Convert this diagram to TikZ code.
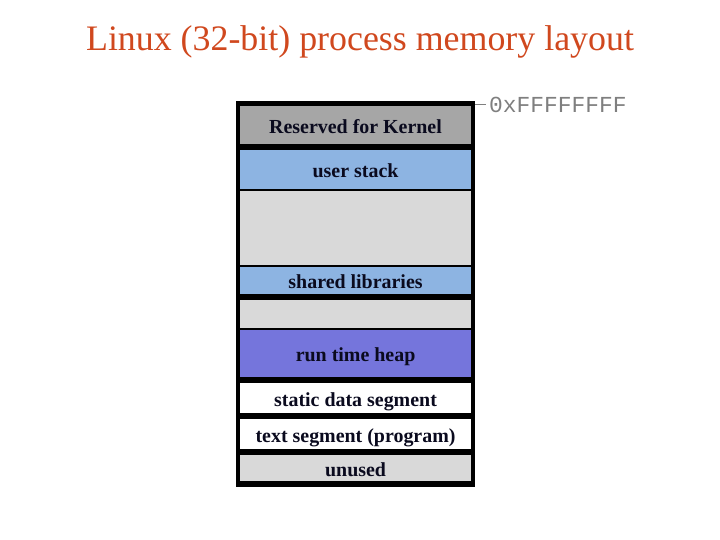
\documentclass[tikz,border=0pt]{standalone}
\usepackage{fontspec}
\setmainfont{Liberation Serif}
\setmonofont{Liberation Mono}
\definecolor{titlecol}{HTML}{D0481E}
\definecolor{kernelgray}{HTML}{A6A6A6}
\definecolor{lightgray}{HTML}{D9D9D9}
\definecolor{stackblue}{HTML}{8DB4E2}
\definecolor{heapblue}{HTML}{7575DC}
\definecolor{addrgray}{HTML}{7F7F7F}
\definecolor{labelcol}{HTML}{0A0A1E}
\begin{document}
\begin{tikzpicture}[x=1bp,y=-1bp,
  region/.style={draw=none, inner sep=0pt, minimum width=230.7bp, anchor=north west,
    text height=16bp, text depth=0bp,
    font=\fontsize{20}{21}\selectfont\bfseries, text=labelcol},
  frame/.style={fill=black, draw=none, inner sep=0pt, anchor=north west},
  ticklink/.style={draw=addrgray, line width=0.8bp}
]
\useasboundingbox (0,0) rectangle (720,540);
\node[text=titlecol, font=\fontsize{36}{40}\selectfont, anchor=base] (title) at (360,51) {Linux (32-bit) process memory layout};
\node[frame, minimum width=238.5bp, minimum height=386bp] (frame) at (236,101) {};
\node[region, fill=kernelgray, minimum height=38bp] (kernel) at (240,106) {Reserved for Kernel};
\node[region, fill=stackblue, minimum height=39bp] (stack) at (240,150) {user stack};
\node[region, fill=lightgray, minimum height=74bp] (gap1) at (240,191) {};
\node[region, fill=stackblue, minimum height=27bp] (shlib) at (240,267) {shared libraries};
\node[region, fill=lightgray, minimum height=28bp] (gap2) at (240,300) {};
\node[region, fill=heapblue, minimum height=47bp] (heap) at (240,330) {run time heap};
\node[region, fill=white, minimum height=30bp] (static) at (240,383) {static data segment};
\node[region, fill=white, minimum height=30bp] (text) at (240,419) {text segment (program)};
\node[region, fill=lightgray, minimum height=26bp] (unused) at (240,455) {unused};
\node[anchor=west, inner sep=0pt, text=addrgray, font=\fontsize{23}{24}\selectfont\ttfamily] (addr) at (489,105) {0xFFFFFFFF};
\coordinate (tickstart) at (frame.east |- 0,104);
\draw[ticklink] (tickstart) -- ([xshift=-3bp]tickstart -| addr.west);
\end{tikzpicture}
\end{document}
